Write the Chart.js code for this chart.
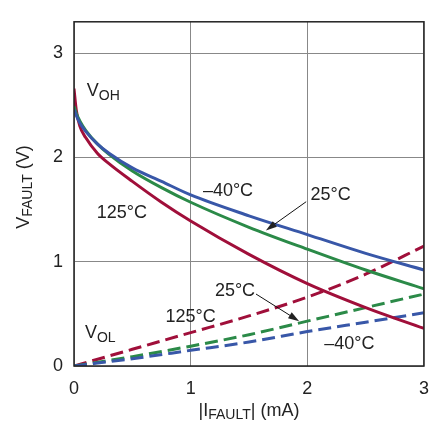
<html>
<head>
  <title>VFAULT vs IFAULT</title>
  <script src="https://cdn.jsdelivr.net/npm/chart.js@4/dist/chart.umd.min.js"></script>
  <style>
    body { margin: 0; background: #fff; }
    .wrap { width: 441px; height: 421px; }
  </style>
</head>
<body>
<div class="wrap"><canvas id="myChart" width="441" height="421"></canvas></div>
<script type="text/javascript">
// current (mA) for the VOH curves and the VOL lines
var iHigh = [0, 0.02, 0.05, 0.1, 0.2, 0.3, 0.5, 0.75, 1, 1.5, 2, 2.5, 3];
var iLow = [0, 0.5, 1, 1.5, 2, 2.5, 3];

// VOH (V)
var vohCold = [2.46, 2.40, 2.33, 2.25, 2.13, 2.04, 1.90, 1.77, 1.64, 1.44, 1.26, 1.08, 0.92];
var vohRoom = [2.49, 2.42, 2.35, 2.26, 2.13, 2.03, 1.87, 1.71, 1.57, 1.33, 1.12, 0.92, 0.74];
var vohHot  = [2.66, 2.45, 2.30, 2.19, 2.04, 1.94, 1.77, 1.57, 1.39, 1.07, 0.79, 0.56, 0.36];

// VOL (V)
var volCold = [0, 0.07, 0.15, 0.23, 0.33, 0.42, 0.51];
var volRoom = [0, 0.09, 0.19, 0.30, 0.43, 0.56, 0.69];
var volHot  = [0, 0.16, 0.32, 0.48, 0.66, 0.88, 1.15];

var xTicks = [0, 1, 2, 3];
var yTicks = [0, 1, 2, 3];

var blue = '#3857a8', green = '#2b8a48', red = '#a00f3a';
var font = '"Liberation Sans Narrow", "Liberation Sans", Arial, sans-serif';

// text labels, placed in data units
var notes = [
  {text: '125°C', x: 0.41, y: 1.47},
  {text: '\u201340°C', x: 1.32, y: 1.68},
  {text: '25°C', x: 2.2, y: 1.64},
  {text: '25°C', x: 1.38, y: 0.72},
  {text: '125°C', x: 1.0, y: 0.47},
  {text: '\u201340°C', x: 2.36, y: 0.21}
];
var subNotes = [
  {main: 'V', sub: 'OH', x: 0.11, y: 2.59},
  {main: 'V', sub: 'OL', x: 0.094, y: 0.27}
];
var arrows = [
  {x0: 1.99, y0: 1.575, x1: 1.645, y1: 1.30},
  {x0: 1.56, y0: 0.69, x1: 1.93, y1: 0.43}
];

function pts(xs, ys) {
  var out = [];
  for (var i = 0; i < xs.length; ++i) out.push({x: xs[i], y: ys[i]});
  return out;
}
function line(xs, ys, color, dashed) {
  return {
    data: pts(xs, ys),
    borderColor: color,
    borderWidth: 3,
    borderDash: dashed ? [13, 6] : [],
    pointRadius: 0,
    cubicInterpolationMode: 'monotone',
    fill: false
  };
}

var decor = {
  id: 'decor',
  afterDatasetsDraw: function (chart) {
    var ctx = chart.ctx, xs = chart.scales.x, ys = chart.scales.y, a = chart.chartArea;
    ctx.save();
    // frame
    ctx.strokeStyle = '#222';
    ctx.lineWidth = 1.5;
    ctx.strokeRect(a.left, a.top, a.right - a.left, a.bottom - a.top);

    ctx.fillStyle = '#222';
    ctx.textAlign = 'center';
    ctx.textBaseline = 'middle';
    ctx.font = '18px ' + font;
    notes.forEach(function (n) {
      ctx.fillText(n.text, xs.getPixelForValue(n.x), ys.getPixelForValue(n.y));
    });

    ctx.textBaseline = 'alphabetic';
    ctx.textAlign = 'left';
    subNotes.forEach(function (n) {
      var px = xs.getPixelForValue(n.x), py = ys.getPixelForValue(n.y);
      ctx.font = '18px ' + font;
      ctx.fillText(n.main, px, py);
      var w = ctx.measureText(n.main).width;
      ctx.font = '14px ' + font;
      ctx.fillText(n.sub, px + w, py + 4);
    });

    // arrows
    ctx.strokeStyle = '#111';
    ctx.lineWidth = 1;
    arrows.forEach(function (r) {
      var x0 = xs.getPixelForValue(r.x0), y0 = ys.getPixelForValue(r.y0);
      var x1 = xs.getPixelForValue(r.x1), y1 = ys.getPixelForValue(r.y1);
      var ang = Math.atan2(y1 - y0, x1 - x0);
      ctx.beginPath();
      ctx.moveTo(x0, y0);
      ctx.lineTo(x1 - 8 * Math.cos(ang), y1 - 8 * Math.sin(ang));
      ctx.stroke();
      ctx.beginPath();
      ctx.moveTo(x1, y1);
      ctx.lineTo(x1 - 11 * Math.cos(ang) + 3.5 * Math.sin(ang), y1 - 11 * Math.sin(ang) - 3.5 * Math.cos(ang));
      ctx.lineTo(x1 - 11 * Math.cos(ang) - 3.5 * Math.sin(ang), y1 - 11 * Math.sin(ang) + 3.5 * Math.cos(ang));
      ctx.closePath();
      ctx.fill();
    });

    // axis titles with subscripts
    ctx.font = '18px ' + font;
    var t1 = '|I', t2 = 'FAULT', t3 = '| (mA)';
    var w1 = ctx.measureText(t1).width, w3 = ctx.measureText(t3).width;
    ctx.font = '14px ' + font;
    var w2 = ctx.measureText(t2).width;
    var cx = (a.left + a.right) / 2;
    var sx = cx - (w1 + w2 + w3) / 2, by = 416;
    ctx.font = '18px ' + font;
    ctx.fillText(t1, sx, by);
    ctx.font = '14px ' + font;
    ctx.fillText(t2, sx + w1, by + 3);
    ctx.font = '18px ' + font;
    ctx.fillText(t3, sx + w1 + w2, by);

    ctx.translate(29, 187);
    ctx.rotate(-Math.PI / 2);
    var v1 = 'V', v2 = 'FAULT', v3 = ' (V)';
    ctx.font = '18px ' + font;
    var u1 = ctx.measureText(v1).width, u3 = ctx.measureText(v3).width;
    ctx.font = '14px ' + font;
    var u2 = ctx.measureText(v2).width;
    var s0 = -(u1 + u2 + u3) / 2;
    ctx.font = '18px ' + font;
    ctx.fillText(v1, s0, 0);
    ctx.font = '14px ' + font;
    ctx.fillText(v2, s0 + u1, 3);
    ctx.font = '18px ' + font;
    ctx.fillText(v3, s0 + u1 + u2, 0);
    ctx.restore();
  }
};

var ctx = document.getElementById('myChart').getContext('2d');
var myChart = new Chart(ctx, {
  type: 'line',
  data: {
    datasets: [
      line(iHigh, vohCold, blue, false),
      line(iHigh, vohRoom, green, false),
      line(iHigh, vohHot, red, false),
      line(iLow, volCold, blue, true),
      line(iLow, volRoom, green, true),
      line(iLow, volHot, red, true)
    ]
  },
  options: {
    responsive: false,
    animation: false,
    layout: {padding: {left: 0, right: 15, top: 14, bottom: 0}},
    plugins: {legend: {display: false}, tooltip: {enabled: false}},
    scales: {
      x: {
        type: 'linear', min: 0, max: 3,
        afterBuildTicks: function (s) { s.ticks = xTicks.map(function (v) { return {value: v}; }); },
        afterFit: function (s) { s.height = 55; },
        grid: {color: '#888', lineWidth: 1, drawTicks: false},
        border: {display: false},
        ticks: {padding: 12, color: '#222', font: {family: font, size: 18}, maxRotation: 0}
      },
      y: {
        type: 'linear', min: 0, max: 3.3,
        afterBuildTicks: function (s) { s.ticks = yTicks.map(function (v) { return {value: v}; }); },
        afterFit: function (s) { s.width = 74; },
        grid: {color: '#888', lineWidth: 1, drawTicks: false},
        border: {display: false},
        ticks: {padding: 11, color: '#222', font: {family: font, size: 18}}
      }
    }
  },
  plugins: [decor]
});
</script>
</body>
</html>
